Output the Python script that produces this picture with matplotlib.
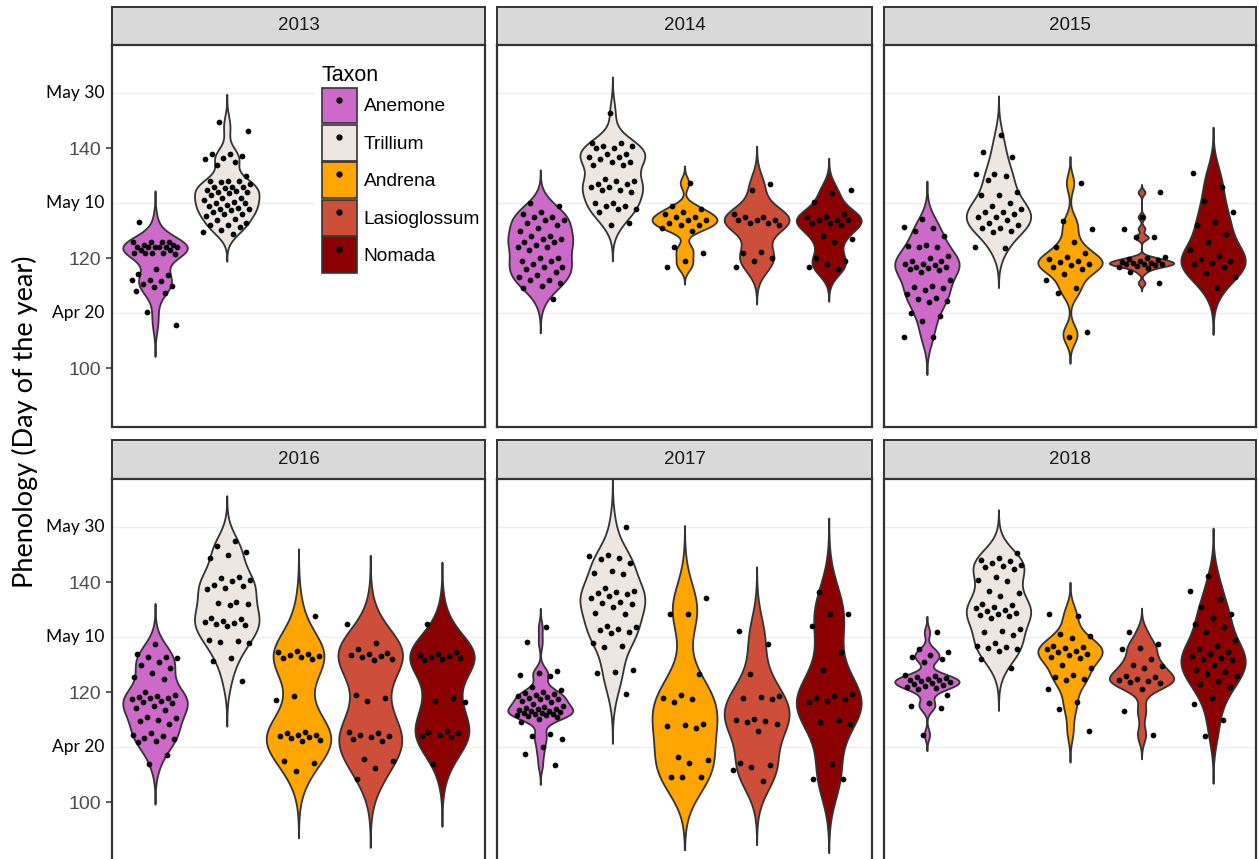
import numpy as np
import matplotlib
matplotlib.use("Agg")
import matplotlib.pyplot as plt
from matplotlib.patches import Patch
from matplotlib.lines import Line2D
from matplotlib.transforms import blended_transform_factory

# ---- data: phenology (day of year) per taxon and year ----
taxa = ["Anemone", "Trillium", "Andrena", "Lasioglossum", "Nomada"]
taxon_colors = ["#CD69C9", "#EEE7E1", "#FFA500", "#CD4F39", "#8B0000"]
years = ["2013", "2014", "2015", "2016", "2017", "2018"]

anemone_2013 = [126.6, 123, 123, 123, 123, 122.5, 122.5, 122, 122, 122, 122, 122, 122, 121.5,
                121.5, 121, 121, 121, 121, 120.8, 118.1, 117.2, 117, 116, 116, 115.8, 115.4,
                115, 114.8, 114, 113.6, 110.2, 107.8]
trillium_2013 = [144.8, 143.1, 139, 139, 138.6, 138.3, 138, 137.5, 137, 135, 134, 134, 134,
                 133.8, 133.5, 133, 133, 133, 132.8, 132.5, 132.2, 132, 132, 131.8, 131.5,
                 131, 131, 130.6, 130.3, 130, 130, 129.7, 129.5, 129.2, 129, 129, 128.7,
                 128.4, 128, 128, 127.6, 127.2, 127, 126.5, 126, 126, 125.6, 125.2, 124.8, 124.5]

anemone_2014 = [130, 129.5, 128.5, 128, 127.5, 127.5, 127, 127, 126.5, 126, 125.5, 125, 124,
                124, 123.5, 123.5, 123, 123, 122.5, 122, 122, 121.5, 120, 120, 119.5, 119.5,
                119, 118.5, 118.5, 118, 117.5, 117, 116.5, 116, 116, 115.5, 115, 114.5, 112.5]
trillium_2014 = [146.5, 141, 141, 140.5, 140.5, 140, 140, 139, 139, 138.5, 138.5, 138, 137.5,
                 137.5, 137, 137, 134.5, 134, 134, 133.5, 133.5, 133, 133, 132.5, 132.5, 132,
                 130, 130, 129.5, 129.5, 129, 129, 128.5, 126.5, 126]
andrena_2014 = [133.7, 129.5, 129, 128.5, 128, 127.5, 127.5, 127, 127, 126.5, 126, 126, 125.5,
                125, 122, 121, 119.5, 118.4]
lasio_2014 = [133.6, 132.4, 128, 127.5, 127.5, 127, 127, 127, 126.5, 126.5, 126, 121.2, 121,
              120, 119.5, 118.5]
nomada_2014 = [132.4, 131.8, 130.2, 128, 127.5, 127.5, 127, 127, 127, 126.5, 126.5, 126, 124,
               123.5, 123, 120, 119.5, 119, 118.5, 118]

anemone_2015 = [127.2, 125.7, 125.5, 125, 124, 122.5, 122.3, 122, 122, 120.5, 120, 119.5, 119.5,
                119, 119, 118.8, 118.5, 118.5, 118.3, 118, 117.8, 117.5, 116, 115, 114.7, 114.5,
                114.3, 113.5, 112.8, 112.5, 112.3, 112, 110, 109.5, 108.5, 105.7, 105.7]
trillium_2015 = [142.4, 139.4, 138.5, 135.4, 135.4, 135, 134.2, 132, 131.5, 131.5, 130, 129.5,
                 129, 128.5, 128.5, 128, 127.5, 127.5, 127, 126.5, 126, 125.5, 125.5, 125,
                 124.8, 122, 121.8]
andrena_2015 = [133.7, 126.8, 125.4, 123, 122, 121, 120.3, 119.8, 119.5, 119.3, 119, 118.7,
                118.5, 118, 117.2, 116, 114.5, 113.7, 106.6, 105.7]
lasio_2015 = [132, 127.5, 125.4, 123.8, 123.8, 120.2, 120, 119.8, 119.6, 119.5, 119.4, 119.2,
              119.1, 119, 119, 118.9, 118.8, 118.6, 118.4, 118.2, 117.5, 115.5]
nomada_2015 = [135.5, 133, 130.5, 128.5, 126.6, 126, 124.5, 123, 121.5, 120.5, 119.8, 119.5,
               119.2, 119, 118.5, 117.3, 116.5, 114.5]

anemone_2016 = [128.8, 127, 126.5, 126.5, 126.3, 125.5, 125, 124.5, 123.5, 122.7, 122.5, 120,
                119.5, 119.3, 119.2, 119, 119, 118.8, 118.5, 118.2, 118, 117.5, 117.2, 116.8,
                115.5, 115.3, 115, 114.8, 114.2, 112.5, 112.2, 112, 111.7, 111.5, 111.2, 111,
                108.5, 107]
trillium_2016 = [147.5, 146.6, 145.5, 145, 144.5, 141, 140.7, 140.5, 140.3, 139.5, 139.3, 139,
                 138.7, 136.5, 136.2, 136, 135.8, 133.5, 133.3, 133, 132.8, 132.6, 132.4, 132.2,
                 132, 129.5, 129.3, 129.1, 129, 126.3, 125.7, 122.1]
andrena_2016 = [133.9, 127.5, 127.3, 127, 126.8, 126.6, 126.4, 126.2, 126, 119.4, 118.6, 112.8,
                112.5, 112.3, 112.2, 112, 111.8, 111.6, 111.4, 111.2, 107.5, 107.2, 105.7]
lasio_2016 = [132.5, 129, 127.8, 127.2, 127, 126.8, 126.6, 126.4, 126, 125.8, 119.5, 119, 118.5,
              112.8, 112.5, 112.2, 112, 111.8, 111.5, 111.2, 107.8, 107.5, 106.3, 104.2]
nomada_2016 = [132.4, 127.3, 127, 126.8, 126.6, 126.4, 126.2, 126, 125.8, 119, 118.5, 118.3,
               113, 112.8, 112.5, 112.2, 112, 111.8, 106.9]

anemone_2017 = [131.8, 129.1, 123.8, 123.5, 123.2, 123, 121, 120.5, 120, 119.8, 119.6, 119.5,
                119.3, 119.2, 119, 118.8, 118.7, 118.5, 118.2, 117.8, 117.5, 117.4, 117.2, 117,
                117, 116.8, 116.6, 116.5, 116.4, 116.3, 116.2, 116, 116, 115.8, 115.8, 115.6,
                115.5, 115.2, 114.5, 112.4, 112, 111.5, 110, 108.8, 106.7]
trillium_2017 = [150, 145, 144.7, 144.5, 144.2, 143.6, 142, 141.7, 141.5, 139, 138.5, 138.3, 138,
                 137.8, 137.5, 137.2, 136.5, 136.2, 136, 135.5, 134.5, 134.3, 132, 131.8, 131.5,
                 131.3, 131, 130.8, 129, 128.5, 128.2, 124, 123.7, 123.5, 119.7]
andrena_2017 = [137.2, 134.2, 134.2, 123.4, 119.5, 119, 118.8, 118.2, 114.3, 114, 113.8, 113.5,
                108.2, 107.6, 107.2, 104.5, 104.5, 104.5]
lasio_2017 = [131.2, 128.8, 123.4, 119.4, 119.2, 119, 118.8, 115.2, 115, 114.8, 114.6, 114.3,
              113, 107.2, 106.8, 106.4, 105.8, 103.9]
nomada_2017 = [138.3, 134.3, 134.2, 132.1, 127.3, 124, 119.6, 119.3, 119, 118.8, 118.5, 118.2,
               115, 114.5, 114.2, 106.9, 104.2, 104.2]

anemone_2018 = [130.9, 127.8, 127.3, 126.8, 126.5, 126, 125.5, 123.2, 123, 122.8, 122.6, 122.5,
                122.3, 122.2, 122, 121.8, 121.7, 121.5, 121.3, 121.2, 121, 120.8, 120.6, 119.5,
                118, 117.5, 117.2, 112.3]
trillium_2018 = [145.4, 144.5, 144, 143.8, 143.5, 143.2, 143, 142.8, 142.5, 141, 140.5, 140.2,
                 138.5, 138, 137.5, 136, 135.8, 135.5, 135.3, 135, 134.8, 134.5, 134.3, 134,
                 133.8, 133.5, 131.5, 131.2, 131, 130.5, 129, 128.5, 128.2, 128, 127.8, 127.5,
                 126, 124.5]
andrena_2018 = [134.3, 133.8, 130.6, 130.2, 129.8, 128.5, 128.2, 128, 127.8, 127.5, 127.3, 127,
                126.8, 126.5, 126.2, 125, 124.5, 123.2, 122.8, 122.5, 122.3, 120.6, 118.2, 117, 113]
lasio_2018 = [130.9, 128.8, 128, 127.8, 126, 125, 124.8, 124.5, 123, 122.7, 122.5, 122.3, 122,
              121.8, 121.6, 120.6, 116.6, 112.3]
nomada_2018 = [141.2, 138.5, 137, 135.5, 134.2, 133.6, 132.5, 131.8, 130.9, 129.5, 128.5, 127.8,
               127.4, 127, 126.6, 126.2, 126, 125.8, 125, 124, 123.6, 123.3, 123, 122, 121.5,
               120.9, 119, 117.9, 115, 112.1]

phenology = {
    "2013": [anemone_2013, trillium_2013, None, None, None],
    "2014": [anemone_2014, trillium_2014, andrena_2014, lasio_2014, nomada_2014],
    "2015": [anemone_2015, trillium_2015, andrena_2015, lasio_2015, nomada_2015],
    "2016": [anemone_2016, trillium_2016, andrena_2016, lasio_2016, nomada_2016],
    "2017": [anemone_2017, trillium_2017, andrena_2017, lasio_2017, nomada_2017],
    "2018": [anemone_2018, trillium_2018, andrena_2018, lasio_2018, nomada_2018],
}

num_ticks = [100, 120, 140]
date_ticks = [110, 130, 150]
date_labels = ["Apr 20", "May 10", "May 30"]

# ---- helpers ----
def violin_outline(vals, npts=300):
    """Gaussian KDE with Silverman (nrd0) bandwidth, untrimmed tails (3 bw)."""
    v = np.asarray(vals, dtype=float)
    n = len(v)
    sd = v.std(ddof=1)
    q75, q25 = np.percentile(v, [75, 25])
    iqr = (q75 - q25) / 1.34
    lo = min(sd, iqr) if iqr > 0 else sd
    bw = 0.9 * lo * n ** -0.2
    y = np.linspace(v.min() - 3 * bw, v.max() + 3 * bw, npts)
    d = np.exp(-0.5 * ((y[:, None] - v[None, :]) / bw) ** 2).sum(axis=1)
    return y, d / d.max()


def jitter_offsets(n, half=0.33, phase=0.0):
    k = np.arange(n)
    return ((k * 0.6180339887 + phase) % 1.0 - 0.5) * 2 * half


# ---- figure layout (pixel based) ----
W, H = 1259, 859
fig = plt.figure(figsize=(W / 100, H / 100), dpi=100)
fig.patch.set_facecolor("white")

col_x = [(112, 485), (497, 872), (884, 1256)]
row_y = [((7, 45), (45, 427)), ((440, 479), (479, 861))]
edge = "#333333"
ylim = (89.3, 158.8)
sans = "Liberation Sans"


def px_rect(x0, x1, y0, y1):
    return [x0 / W, 1 - y1 / H, (x1 - x0) / W, (y1 - y0) / H]


axes = []
for i, yr in enumerate(years):
    r, c = divmod(i, 3)
    (sy0, sy1), (py0, py1) = row_y[r]
    x0, x1 = col_x[c]

    # facet strip
    sax = fig.add_axes(px_rect(x0, x1, sy0, sy1))
    sax.set_facecolor("#D9D9D9")
    sax.set_xticks([]); sax.set_yticks([])
    for s in sax.spines.values():
        s.set_color(edge); s.set_linewidth(1.4)
    sax.text(0.5, 0.5, yr, ha="center", va="center", fontsize=13.5,
             family=sans, color="#1A1A1A", transform=sax.transAxes)

    ax = fig.add_axes(px_rect(x0, x1, py0, py1))
    axes.append(ax)
    ax.set_xlim(0.4, 5.6)
    ax.set_ylim(*ylim)
    for s in ax.spines.values():
        s.set_color(edge); s.set_linewidth(1.6); s.set_zorder(10)
    for g in date_ticks:
        ax.axhline(g, color="#EEEEEE", lw=1.0, zorder=0)
    ax.set_xticks([])

    for j, vals in enumerate(phenology[yr]):
        if vals is None:
            continue
        xc = j + 1
        y, d = violin_outline(vals)
        ax.fill_betweenx(y, xc - 0.45 * d, xc + 0.45 * d, facecolor=taxon_colors[j],
                         edgecolor=edge, linewidth=1.3, zorder=2)
        xo = xc + jitter_offsets(len(vals), phase=0.17 * (j + 1) + 0.11 * i)
        ax.scatter(xo, vals, s=17, color="black", linewidths=0, zorder=3)

    if c == 0:
        ax.set_yticks(num_ticks)
        ax.set_yticklabels([str(t) for t in num_ticks], fontsize=14, family=sans,
                           color="#4D4D4D")
        ax.tick_params(axis="y", length=4.5, width=1.1, color=edge, pad=3.5)
        tr = blended_transform_factory(ax.transAxes, ax.transData)
        for v, lab in zip(date_ticks, date_labels):
            ax.text(-0.021, v, lab, transform=tr, ha="right", va="center",
                    fontsize=12.5, family="Lato", color="black")
    else:
        ax.set_yticks([])

# legend inside the first panel
handles = [(Patch(facecolor=col, edgecolor=edge, linewidth=1.2),
            Line2D([], [], marker="o", color="black", ls="", markersize=3.5))
           for col in taxon_colors]
leg = axes[0].legend(handles, taxa, title="Taxon", loc="upper left",
                     bbox_to_anchor=(0.518, 0.99), frameon=True, facecolor="white",
                     edgecolor="none", framealpha=1, fancybox=False,
                     prop={"family": sans, "size": 13.8},
                     title_fontproperties={"family": sans, "size": 15.5},
                     handlelength=1.85, handleheight=2.5, labelspacing=0.08,
                     handletextpad=0.35, borderpad=0.35, alignment="left")
leg.set_zorder(5)

fig.text(25 / W, 1 - 422 / H, "Phenology (Day of the year)", rotation=90,
         ha="center", va="center", fontsize=19.5, family="Lato", color="black")

fig.savefig("out.png", dpi=100, facecolor="white")
